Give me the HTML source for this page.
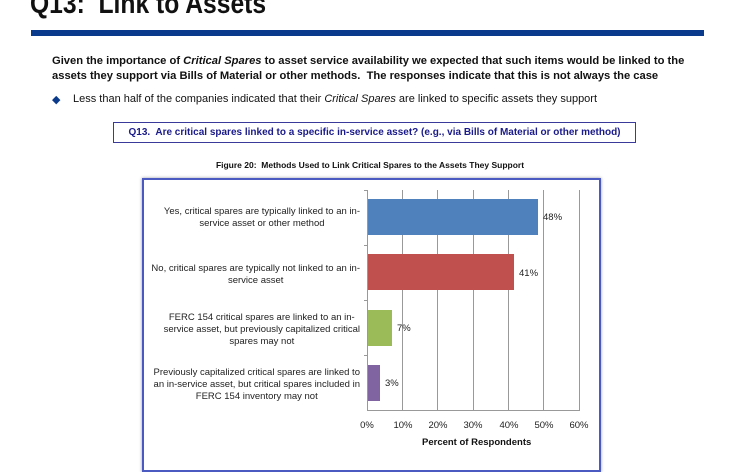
<!DOCTYPE html>
<html><head><style>
body{margin:0;width:740px;height:460px;background:#fff;position:relative;overflow:hidden;font-family:"Liberation Sans",sans-serif;}
.a{position:absolute;white-space:nowrap;}
.lbl{position:absolute;right:380px;text-align:center;font-size:9.5px;color:#222;line-height:12px;white-space:nowrap;}
.tk{position:absolute;top:420px;font-size:9.5px;color:#222;width:30px;text-align:center;}
.vl{position:absolute;font-size:9.5px;color:#222;}
</style></head><body>
<div class="a" style="left:30px;top:-12px;font-size:29px;font-weight:bold;color:#111;transform:scaleX(0.85);transform-origin:0 0;">Q13:&nbsp; Link to Assets</div>
<div class="a" style="left:31px;top:30px;width:673px;height:6px;background:#0a3a8c;"></div>
<div class="a" style="left:52px;top:54px;font-size:11.2px;font-weight:bold;color:#111;line-height:15px;">Given the importance of <i>Critical Spares</i> to asset service availability we expected that such items would be linked to the<br>assets they support via Bills of Material or other methods.&nbsp; The responses indicate that this is not always the case</div>
<div class="a" style="left:52px;top:93px;font-size:11px;color:#0a3a8c;">◆</div>
<div class="a" style="left:73px;top:93px;font-size:11px;color:#111;">Less than half of the companies indicated that their <i>Critical Spares</i> are linked to specific assets they support</div>
<div class="a" style="left:113px;top:122px;width:521px;height:19px;border:1px solid #3a3a9a;font-size:10px;font-weight:bold;color:#1a1a8a;text-align:center;line-height:19px;">Q13.&nbsp; Are critical spares linked to a specific in-service asset? (e.g., via Bills of Material or other method)</div>
<div class="a" style="left:0;width:740px;top:160px;text-align:center;font-size:8.5px;font-weight:bold;color:#111;">Figure 20:&nbsp; Methods Used to Link Critical Spares to the Assets They Support</div>
<div class="a" style="left:142px;top:178px;width:455px;height:290px;border:2px solid #4a5ac0;box-shadow:0 0 3px #99a;"></div>
<svg class="a" style="left:0;top:0" width="740" height="460">
<g stroke="#999" stroke-width="1">
<line x1="402.5" y1="190" x2="402.5" y2="410"/><line x1="437.5" y1="190" x2="437.5" y2="410"/><line x1="473.5" y1="190" x2="473.5" y2="410"/><line x1="508.5" y1="190" x2="508.5" y2="410"/><line x1="543.5" y1="190" x2="543.5" y2="410"/><line x1="579.5" y1="190" x2="579.5" y2="410"/>
<line x1="367.5" y1="190" x2="367.5" y2="410"/><line x1="367" y1="410.5" x2="580" y2="410.5"/>
<line x1="364" y1="190.5" x2="367" y2="190.5"/><line x1="364" y1="245.5" x2="367" y2="245.5"/><line x1="364" y1="300.5" x2="367" y2="300.5"/><line x1="364" y1="355.5" x2="367" y2="355.5"/>
</g>
<rect x="368" y="199" width="170" height="36" fill="#4f81bd"/>
<rect x="368" y="254" width="146" height="36" fill="#c0504d"/>
<rect x="368" y="310" width="24" height="36" fill="#9bbb59"/>
<rect x="368" y="365" width="12" height="36" fill="#8064a2"/>
</svg>
<div class="lbl" style="top:206px;">Yes, critical spares are typically linked to an in-<br>service asset or other method</div>
<div class="lbl" style="top:263px;">No, critical spares are typically not linked to an in-<br>service asset</div>
<div class="lbl" style="top:312px;">FERC 154 critical spares are linked to an in-<br>service asset, but previously capitalized critical<br>spares may not</div>
<div class="lbl" style="top:367px;">Previously capitalized critical spares are linked to<br>an in-service asset, but critical spares included in<br>FERC 154 inventory may not</div>
<div class="vl" style="left:543px;top:212px;">48%</div>
<div class="vl" style="left:519px;top:268px;">41%</div>
<div class="vl" style="left:397px;top:323px;">7%</div>
<div class="vl" style="left:385px;top:378px;">3%</div>
<div class="tk" style="left:352px;">0%</div><div class="tk" style="left:388px;">10%</div><div class="tk" style="left:423px;">20%</div><div class="tk" style="left:458px;">30%</div><div class="tk" style="left:494px;">40%</div><div class="tk" style="left:529px;">50%</div><div class="tk" style="left:564px;">60%</div>
<div class="a" style="left:422px;top:437px;font-size:9.5px;font-weight:bold;color:#111;">Percent of Respondents</div>
</body></html>
